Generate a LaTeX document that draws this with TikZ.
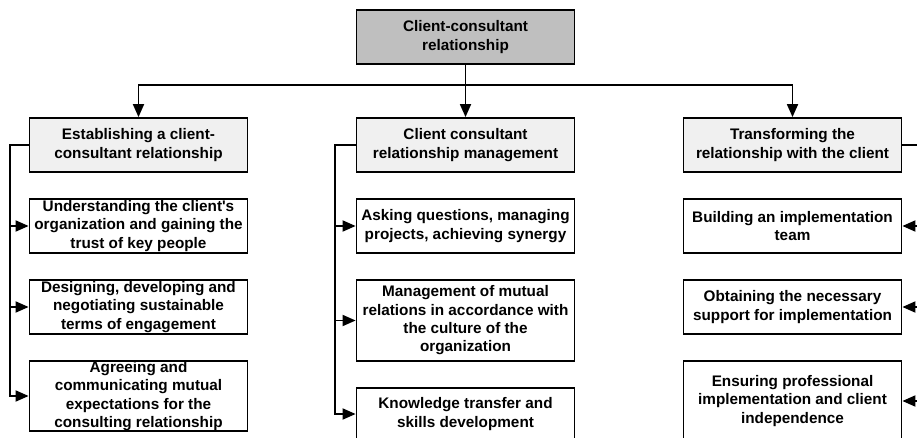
\documentclass[tikz,border=0pt]{standalone}
\usepackage{fontspec}
\setmainfont{Liberation Sans}
\usetikzlibrary{positioning, arrows.meta}

\begin{document}
\begin{tikzpicture}[x=1pt, y=-1pt, on grid, line width=1.8pt, >={Triangle[length=13pt,width=11pt]}]
        \tikzset{box/.style={draw, fill=white, minimum width=218pt, minimum height=54pt, inner sep=0pt, align=center, font=\bfseries\fontsize{15.3}{18.3}\selectfont}}
        % Define fills for the top box and the three column heads
        \tikzstyle{root box}=[box, fill=black!25]
        \tikzstyle{head box}=[box, fill=black!6]

        \useasboundingbox (0,0) rectangle (917,438);
        \clip (0,0) rectangle (917,438);

        \node[root box] (root) at (465.5,37) {Client-consultant\\relationship};
        \node[head box] (mgmt) [below=108pt of root] {Client consultant\\relationship management};
        \node[head box] (est) [left=327pt of mgmt] {Establishing a client-\\consultant relationship};
        \node[head box] (trans) [right=327pt of mgmt] {Transforming the\\relationship with the client};

        \node[box] (est1) [below=81pt of est] {Understanding the client\textquotesingle s\\organization and gaining the\\trust of key people};
        \node[box] (est2) [below=81pt of est1] {Designing, developing and\\negotiating sustainable\\terms of engagement};
        \node[box,minimum height=70pt] (est3) [below=89pt of est2] {Agreeing and\\communicating mutual\\expectations for the\\consulting relationship};

        \node[box] (mgmt1) [below=81pt of mgmt] {Asking questions, managing\\projects, achieving synergy};
        \node[box,minimum height=81pt] (mgmt2) [below=94.5pt of mgmt1] {Management of mutual\\relations in accordance with\\the culture of the\\organization};
        \node[box,minimum height=52pt] (mgmt3) [below=93.5pt of mgmt2] {Knowledge transfer and\\skills development};

        \node[box] (trans1) [below=81pt of trans] {Building an implementation\\team};
        \node[box] (trans2) [below=81pt of trans1] {Obtaining the necessary\\support for implementation};
        \node[box,minimum height=80pt] (trans3) [below=94pt of trans2] {Ensuring professional\\implementation and client\\independence};

        \draw[->] (root) -- (mgmt);
        \draw[->] (root.south) -- ++(0,20) -| (est);
        \draw[->] (root.south) -- ++(0,20) -| (trans);

        \foreach \n in {est1,est2,est3}
            \draw[->] (est.west) -- ++(-19,0) |- (\n);
        \foreach \n in {mgmt1,mgmt2,mgmt3}
            \draw[->] (mgmt.west) -- ++(-21,0) |- (\n);
        \foreach \n in {trans1,trans2,trans3}
            \draw[->] (trans.east) -- ++(21,0) |- (\n);
\end{tikzpicture}
\end{document}
